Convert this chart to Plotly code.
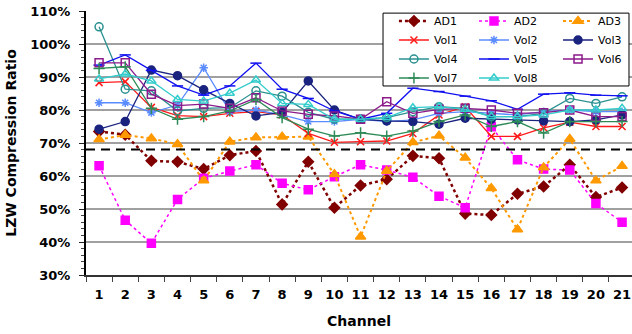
import plotly.graph_objects as go

channels = [str(i) for i in range(1, 22)]

AD1 = [73.5, 72.5, 64.6, 64.3, 62.1, 66.3, 67.6, 51.4, 64.3, 50.4, 57.1, 59.0, 66.1, 65.4, 48.6, 48.2, 54.6, 56.8, 63.4, 53.6, 56.5]
AD2 = [63.1, 46.6, 39.6, 52.9, 59.3, 61.5, 63.4, 57.8, 55.8, 59.8, 63.4, 61.8, 59.6, 53.9, 50.4, 74.9, 64.9, 62.1, 61.8, 51.7, 46.0]
AD3 = [71.1, 72.4, 71.4, 69.6, 58.6, 70.4, 71.7, 71.9, 71.9, 60.5, 41.6, 61.5, 70.2, 72.2, 65.5, 56.3, 43.8, 62.6, 71.2, 58.6, 63.0]
Vol1 = [88.3, 88.6, 80.8, 78.3, 78.0, 79.0, 79.5, 78.5, 72.9, 70.2, 70.4, 70.6, 72.9, 78.5, 81.0, 72.0, 72.0, 74.6, 76.3, 75.0, 75.0]
Vol2 = [82.2, 82.2, 79.2, 81.5, 92.8, 79.5, 80.0, 78.5, 76.5, 76.5, 77.2, 76.5, 77.0, 79.0, 79.5, 79.0, 78.5, 79.5, 80.0, 79.5, 79.5]
Vol3 = [74.2, 76.5, 92.1, 90.4, 86.1, 82.0, 78.2, 79.3, 88.8, 80.0, 77.2, 76.7, 76.5, 75.7, 77.5, 77.2, 77.0, 76.7, 76.5, 77.0, 78.5]
Vol4 = [105.2, 86.3, 85.8, 79.7, 80.5, 80.7, 85.8, 84.2, 79.3, 77.2, 77.2, 77.7, 79.5, 81.0, 80.5, 78.0, 78.0, 79.0, 83.5, 82.0, 84.0]
Vol5 = [93.6, 96.7, 92.0, 87.3, 84.5, 87.3, 94.2, 86.3, 83.5, 79.7, 77.2, 79.0, 86.6, 85.6, 84.2, 82.8, 80.2, 84.8, 85.2, 84.5, 84.3]
Vol6 = [94.3, 94.3, 84.8, 81.3, 81.8, 80.5, 83.7, 79.7, 78.7, 78.2, 77.2, 82.5, 79.0, 80.2, 80.5, 80.0, 79.0, 79.2, 80.0, 78.0, 78.0]
Vol7 = [92.6, 93.1, 80.5, 77.2, 78.0, 79.7, 83.2, 77.7, 74.2, 72.1, 73.1, 72.1, 73.6, 76.5, 78.5, 75.0, 76.5, 73.0, 76.5, 76.5, 76.5]
Vol8 = [89.4, 90.9, 88.8, 83.2, 82.7, 85.1, 89.1, 82.0, 81.7, 77.2, 77.2, 77.7, 80.7, 81.0, 80.2, 78.0, 78.0, 78.5, 80.0, 80.0, 80.5]
THRESHOLD = 68

y_ticks = [30, 40, 50, 60, 70, 80, 90, 100, 110]
y_labels = [f"{v}%" for v in y_ticks]

# name, values, colour, dash, symbol, marker size, line width, legend column
series = [
    ("AD1", AD1, "#800000", "dot", "diamond", 8, 2.5, "legend"),
    ("AD2", AD2, "#FF00FF", "dot", "square", 8, 1.5, "legend2"),
    ("AD3", AD3, "#FF9900", "dot", "triangle-up", 9, 2, "legend3"),
    ("Vol1", Vol1, "#FF1A1A", "solid", "x-thin-open", 7, 1.3, "legend"),
    ("Vol2", Vol2, "#5B8CFF", "solid", "asterisk-open", 7, 1.3, "legend2"),
    ("Vol3", Vol3, "#1A237E", "solid", "circle", 8, 1.3, "legend3"),
    ("Vol4", Vol4, "#2A9090", "solid", "circle-open", 8, 1.3, "legend"),
    ("Vol5", Vol5, "#1010F0", "solid", "line-ew-open", 8, 1.3, "legend2"),
    ("Vol6", Vol6, "#8B1A8B", "solid", "square-open", 8, 1.3, "legend3"),
    ("Vol7", Vol7, "#2E8B57", "solid", "cross-thin-open", 8, 1.3, "legend"),
    ("Vol8", Vol8, "#33CCCC", "solid", "triangle-up-open", 8, 1.3, "legend2"),
]

fig = go.Figure()
for name, vals, color, dash, sym, msize, lw, leg in series:
    fig.add_trace(go.Scatter(
        x=channels, y=vals, name=name, mode="lines+markers", legend=leg,
        line=dict(color=color, dash=dash, width=lw),
        marker=dict(symbol=sym, size=msize, color=color,
                    line=dict(color=color, width=1.5)),
    ))

fig.add_shape(type="line", xref="paper", x0=0, x1=1, yref="y", y0=THRESHOLD, y1=THRESHOLD,
              line=dict(color="black", width=2, dash="9px,6px"))

# legend frame
fig.add_shape(type="rect", xref="paper", yref="paper", x0=0.544, x1=0.9945, y0=0.716, y1=0.992,
              fillcolor="white", line=dict(color="black", width=1), layer="above")

leg_common = dict(orientation="v", yanchor="top", xanchor="left", y=1.017,
                  bgcolor="rgba(0,0,0,0)", borderwidth=0,
                  font=dict(size=11, family="DejaVu Sans", color="black"),
                  tracegroupgap=0, itemwidth=30)

fig.update_layout(
    template="none",
    width=632, height=334,
    margin=dict(l=86, r=0, t=11, b=59),
    paper_bgcolor="white", plot_bgcolor="white",
    font=dict(family="DejaVu Sans", color="black"),
    showlegend=True,
    legend=dict(x=0.564, **leg_common),
    legend2=dict(x=0.7106, **leg_common),
    legend3=dict(x=0.8645, **leg_common),
    xaxis=dict(
        type="category", range=[-0.5, 20.38], tickson="boundaries", automargin=False,
        ticks="outside", ticklen=5, tickcolor="#444", showgrid=False, tickangle=0,
        ticklabelstandoff=6, ticklabeloverflow="allow",
        showline=True, linecolor="#333", linewidth=2, zeroline=False,
        tickfont=dict(size=13, family="DejaVu Sans", weight="bold"),
        title=dict(text="<b>Channel</b>", font=dict(size=14), standoff=16),
    ),
    yaxis=dict(
        range=[30, 110], tickvals=y_ticks, ticktext=y_labels, automargin=False,
        ticks="outside", ticklen=5, tickcolor="#222", ticklabelstandoff=6,
        ticklabeloverflow="allow",
        minor=dict(dtick=2, ticks="outside", ticklen=3, tickcolor="#444", showgrid=False),
        showgrid=True, gridcolor="#A0A0A0", gridwidth=1.5,
        showline=True, linecolor="black", linewidth=2, zeroline=False,
        tickfont=dict(size=13, family="DejaVu Sans", weight="bold"),
        title=dict(text="<b>LZW Compression Ratio</b>", font=dict(size=14), standoff=10),
    ),
)

fig.write_html(
    "out.html",
    config={"displayModeBar": False},
    post_script="document.body.style.margin='0';document.body.style.overflow='hidden';",
)
